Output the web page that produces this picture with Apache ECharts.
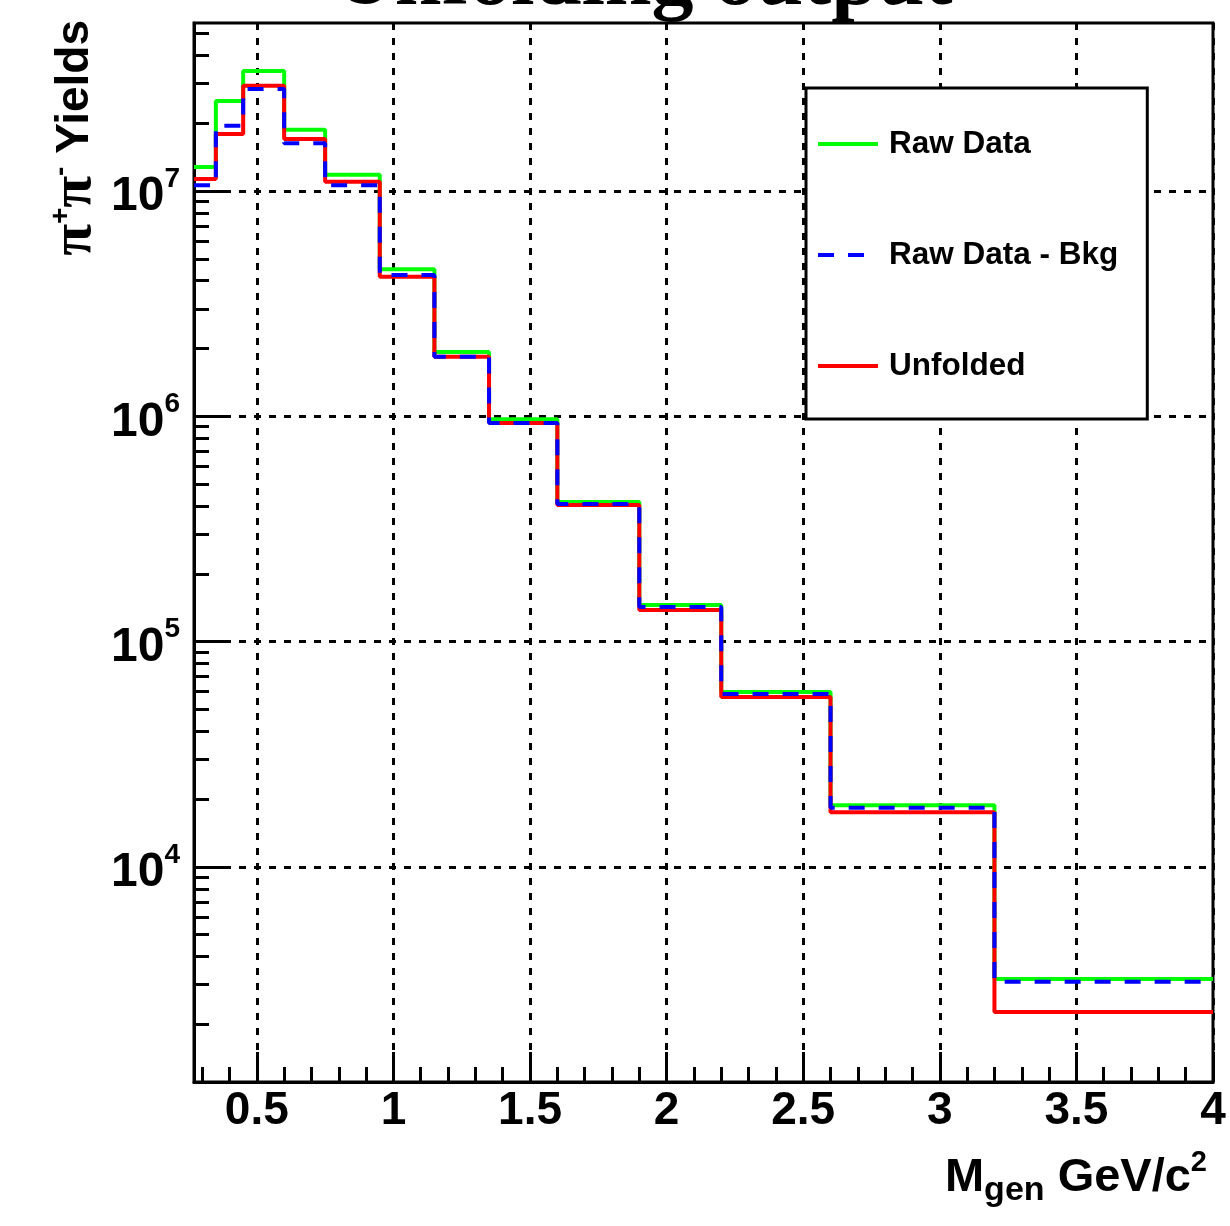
<!DOCTYPE html>
<html>
<head>
<meta charset="utf-8">
<title>Unfolding output</title>
<script src="https://cdn.jsdelivr.net/npm/echarts@6.0.0/dist/echarts.min.js"></script>
<style>
  html, body { margin: 0; padding: 0; background: #fff; }
  #chart { width: 1230px; height: 1226px; }
</style>
</head>
<body>
<div id="chart"></div>
<script>
// bin edges, GeV/c^2 (13 bins)
var binEdges = [0.27, 0.35, 0.45, 0.6, 0.75, 0.95, 1.15, 1.35, 1.6, 1.9, 2.2, 2.6, 3.2, 4.0];
// yields per bin
var rawData     = [1.28e7, 2.51e7, 3.41e7, 1.87e7, 1.18e7, 4.50e6, 1.93e6, 9.70e5, 4.17e5, 1.455e5, 5.98e4, 1.88e4, 3.18e3];
var rawMinusBkg = [1.06e7, 1.95e7, 2.84e7, 1.63e7, 1.06e7, 4.24e6, 1.84e6, 9.35e5, 4.08e5, 1.425e5, 5.86e4, 1.83e4, 3.09e3];
var unfolded    = [1.13e7, 1.79e7, 2.93e7, 1.70e7, 1.10e7, 4.16e6, 1.84e6, 9.35e5, 4.04e5, 1.38e5, 5.68e4, 1.75e4, 2.27e3];

var seriesNames = ['Raw Data', 'Raw Data - Bkg', 'Unfolded'];
var xMajorTicks = [0.5, 1, 1.5, 2, 2.5, 3, 3.5, 4];
var yDecades = [1e4, 1e5, 1e6, 1e7];
var xRange = [0.27, 4];
var yRange = [1.11e3, 5.57e7];

// ROOT style minor ticks
var xMinorTicks = [];
for (var i = 3; i < 40; i++) {
  if (i % 5 !== 0) xMinorTicks.push(i / 10);
}
var yMinorTicks = [];
for (var e = 3; e <= 7; e++) {
  for (var m = 2; m <= 9; m++) {
    var v = m * Math.pow(10, e);
    if (v > yRange[0] && v < yRange[1]) yMinorTicks.push(v);
  }
}

// histogram outline: one point per lower edge + closing point at last edge
function histLine(values) {
  var pts = values.map(function (val, k) { return [binEdges[k], val]; });
  pts.push([binEdges[values.length], values[values.length - 1]]);
  return pts;
}

var FONT = 'Liberation Sans';
var black = '#000';

var chart = echarts.init(document.getElementById('chart'));

chart.setOption({
  animation: false,
  backgroundColor: '#fff',
  title: {
    text: 'Unfolding output',
    left: 329,
    top: -65,
    textStyle: { fontFamily: 'Liberation Serif', fontWeight: 'bold', fontSize: 84, color: black }
  },
  grid: {
    left: 194, right: 17, top: 23, bottom: 144,
    outerBoundsMode: 'none',
    containLabel: false,
    show: true, borderColor: black, borderWidth: 3, backgroundColor: 'transparent'
  },
  legend: {
    data: seriesNames,
    orient: 'vertical',
    left: 806,
    top: 88,
    padding: [40, 29, 37, 10],
    itemGap: 79,
    itemWidth: 60,
    itemHeight: 28,
    backgroundColor: '#fff',
    borderColor: black,
    borderWidth: 3,
    borderRadius: 0,
    itemStyle: { opacity: 0 },
    lineStyle: { width: 4 },
    textStyle: { fontFamily: FONT, fontWeight: 'bold', fontSize: 31.5, color: black, padding: [0, 0, 0, 6] }
  },
  xAxis: [{
    type: 'value',
    position: 'bottom',
    min: xRange[0], max: xRange[1],
    name: '{m|M}{sub|gen}{m| GeV/c}{sup|2}',
    nameLocation: 'end',
    nameGap: -6,
    nameMoveOverlap: false,
    nameTextStyle: {
      align: 'right', verticalAlign: 'top', padding: [66, 0, 0, 0],
      fontFamily: FONT, fontWeight: 'bold', fontSize: 47, color: black, lineHeight: 60,
      rich: {
        m: { fontFamily: FONT, fontWeight: 'bold', fontSize: 47, lineHeight: 60, verticalAlign: 'middle', color: black },
        sub: { fontFamily: FONT, fontWeight: 'bold', fontSize: 34, lineHeight: 30, verticalAlign: 'bottom', color: black },
        sup: { fontFamily: FONT, fontWeight: 'bold', fontSize: 29, lineHeight: 40, verticalAlign: 'top', color: black }
      }
    },
    axisLine: { show: true, lineStyle: { color: black, width: 3 } },
    axisTick: { show: true, inside: true, length: 30, customValues: xMajorTicks, lineStyle: { color: black, width: 3 } },
    axisLabel: {
      customValues: xMajorTicks, margin: 6,
      fontFamily: FONT, fontWeight: 'bold', fontSize: 46, color: black,
      formatter: function (val) { return String(val); }
    },
    splitLine: { show: true, lineStyle: { color: black, width: 3, type: [7, 8] } }
  }, {
    type: 'value',
    position: 'bottom',
    min: xRange[0], max: xRange[1],
    axisLine: { show: false },
    axisTick: { show: true, inside: true, length: 15, customValues: xMinorTicks, lineStyle: { color: black, width: 3 } },
    axisLabel: { show: false },
    splitLine: { show: false }
  }],
  yAxis: [{
    type: 'log',
    logBase: 10,
    position: 'left',
    min: yRange[0], max: yRange[1],
    name: '{pi|π}{sp|+}{pi|π}{sp|-}{t| Yields}',
    nameLocation: 'end',
    nameRotate: 90,
    nameGap: 3,
    nameMoveOverlap: false,
    nameTextStyle: {
      align: 'right', verticalAlign: 'bottom', padding: [0, 0, 91, 0],
      fontFamily: FONT, fontWeight: 'bold', fontSize: 46, color: black, lineHeight: 56,
      rich: {
        pi: { fontFamily: 'Liberation Serif', fontSize: 58, lineHeight: 56, verticalAlign: 'middle', color: black },
        sp: { fontFamily: FONT, fontSize: 28, lineHeight: 30, verticalAlign: 'top', color: black },
        t: { fontFamily: FONT, fontWeight: 'bold', fontSize: 46, lineHeight: 56, verticalAlign: 'middle', color: black }
      }
    },
    axisLine: { show: true, lineStyle: { color: black, width: 3 } },
    axisTick: { show: true, inside: true, length: 30, customValues: yDecades, lineStyle: { color: black, width: 3 } },
    axisLabel: {
      customValues: yDecades, margin: 14, padding: [12, 0, 0, 0],
      formatter: function (val) {
        return '{b|10}{s|' + Math.round(Math.log10(val)) + '}';
      },
      rich: {
        b: { fontFamily: FONT, fontWeight: 'bold', fontSize: 48, lineHeight: 64, verticalAlign: 'middle', color: black },
        s: { fontFamily: FONT, fontWeight: 'bold', fontSize: 28, lineHeight: 24, verticalAlign: 'top', color: black }
      }
    },
    splitLine: { show: true, lineStyle: { color: black, width: 3, type: [7, 8] } }
  }, {
    type: 'log',
    logBase: 10,
    position: 'left',
    min: yRange[0], max: yRange[1],
    axisLine: { show: false },
    axisTick: { show: true, inside: true, length: 15, customValues: yMinorTicks, lineStyle: { color: black, width: 3 } },
    axisLabel: { show: false },
    splitLine: { show: false }
  }],
  series: [{
    name: seriesNames[0],
    type: 'line', step: 'end', symbol: 'none', z: 3,
    data: histLine(rawData),
    itemStyle: { color: '#00ff00' },
    lineStyle: { color: '#00ff00', width: 4 }
  }, {
    name: seriesNames[2],
    type: 'line', step: 'end', symbol: 'none', z: 4,
    data: histLine(unfolded),
    itemStyle: { color: '#ff0000' },
    lineStyle: { color: '#ff0000', width: 4 }
  }, {
    name: seriesNames[1],
    type: 'line', step: 'end', symbol: 'none', z: 5,
    data: histLine(rawMinusBkg),
    itemStyle: { color: '#0000ff' },
    lineStyle: { color: '#0000ff', width: 4, type: [16, 14] }
  }]
});
</script>
</body>
</html>
